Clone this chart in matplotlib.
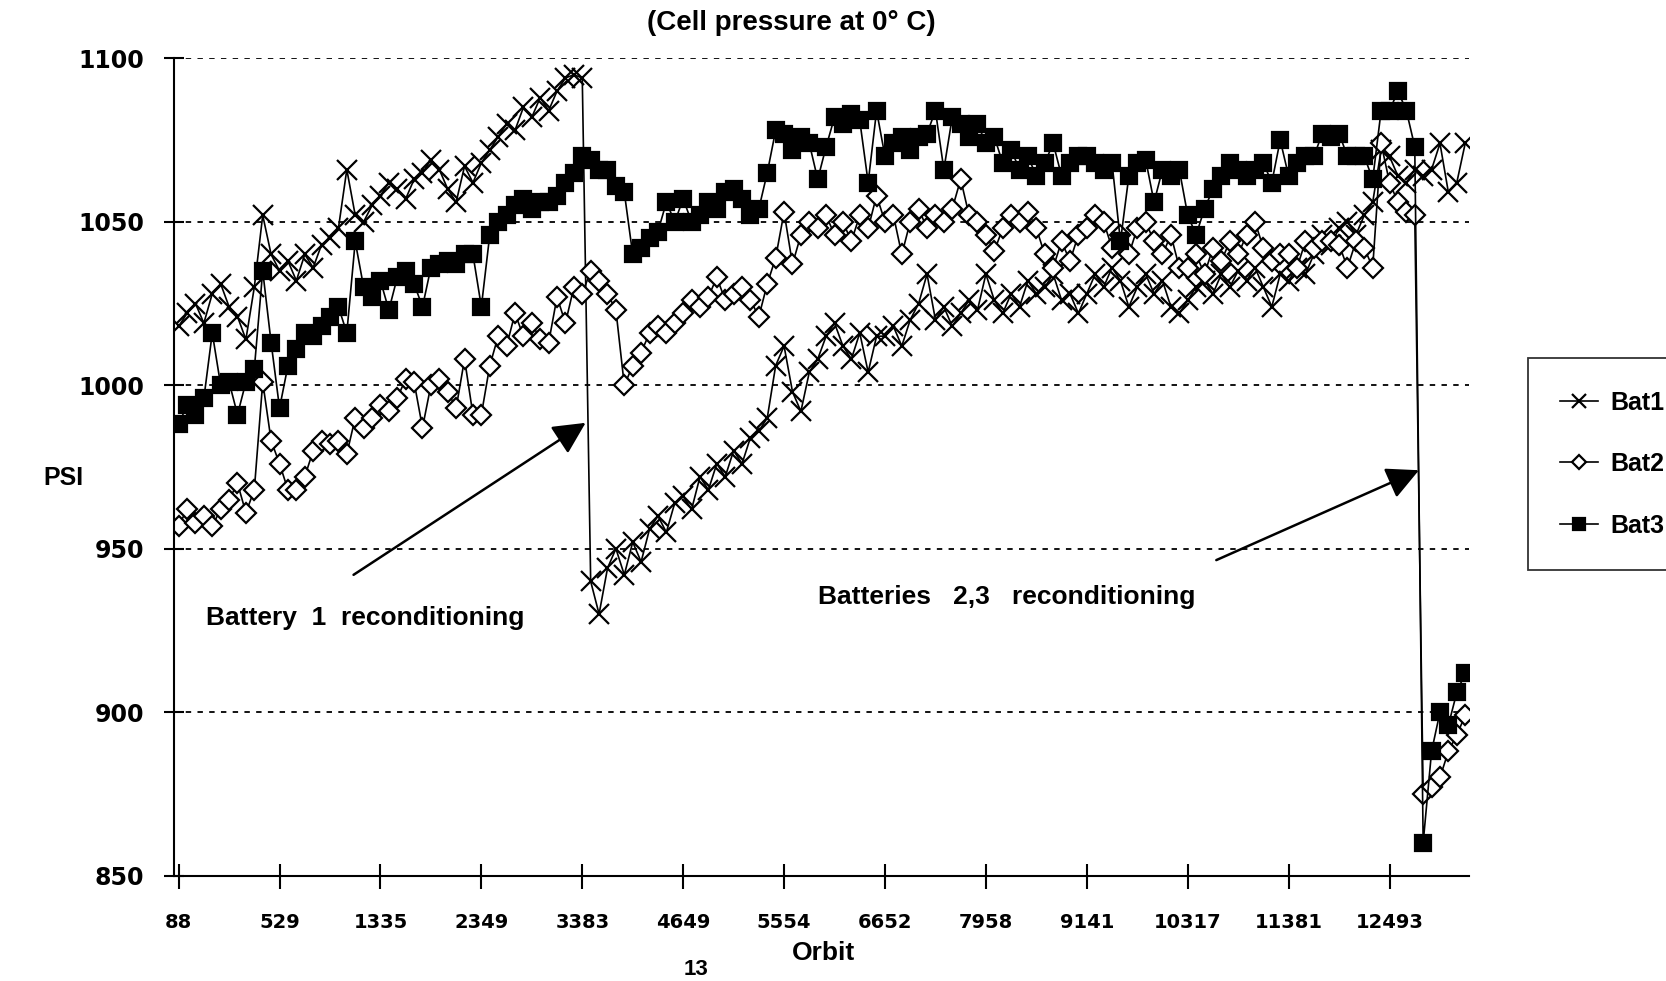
import numpy as np
import matplotlib
matplotlib.use("Agg")
import matplotlib.pyplot as plt

plt.rcParams["font.family"] = ["Liberation Sans", "DejaVu Sans"]
plt.rcParams["font.weight"] = "bold"

# orbit labels shown every 12 samples
orbit_labels = ["88", "529", "1335", "2349", "3383", "4649", "5554",
                "6652", "7958", "9141", "10317", "11381", "12493"]
label_step = 12

# cell pressure (psi) per sample
bat1 = [
    1018, 1022, 1025, 1019, 1028, 1031, 1024, 1021, 1014, 1030, 1052, 1040,
    1035, 1038, 1032, 1040, 1036, 1043, 1045, 1048, 1066, 1052, 1050, 1055,
    1058, 1062, 1060, 1057, 1063, 1065, 1069, 1066, 1060, 1056, 1067, 1062,
    1068, 1072, 1076, 1080, 1078, 1085, 1082, 1088, 1084, 1090, 1094, 1095,
    1094, 940, 930, 944, 950, 942, 952, 946, 956, 960, 955, 964,
    966, 962, 972, 968, 976, 972, 980, 976, 984, 986, 990, 1006,
    1012, 998, 992, 1004, 1008, 1015, 1019, 1012, 1008, 1016, 1004, 1015,
    1015, 1018, 1012, 1020, 1025, 1034, 1020, 1024, 1018, 1022, 1026, 1023,
    1034, 1026, 1022, 1028, 1024, 1032, 1028, 1030, 1034, 1026, 1028, 1022,
    1028, 1034, 1030, 1036, 1032, 1024, 1030, 1034, 1028, 1032, 1024, 1022,
    1026, 1030, 1032, 1028, 1034, 1030, 1035, 1032, 1036, 1030, 1024, 1034,
    1032, 1036, 1034, 1040, 1046, 1043, 1048, 1050, 1046, 1052, 1056, 1072,
    1070, 1064, 1062, 1066, 1064, 1066, 1074, 1059, 1062, 1074,
]
bat2 = [
    957, 962, 958, 960, 957, 962, 965, 970, 961, 968, 1001, 983,
    976, 968, 968, 972, 980, 983, 982, 983, 979, 990, 987, 990,
    994, 992, 996, 1002, 1001, 987, 1000, 1002, 998, 993, 1008, 991,
    991, 1006, 1015, 1012, 1022, 1015, 1019, 1014, 1013, 1027, 1019, 1030,
    1028, 1035, 1032, 1028, 1023, 1000, 1006, 1010, 1016, 1018, 1016, 1019,
    1022, 1026, 1024, 1027, 1033, 1026, 1028, 1030, 1026, 1021, 1031, 1039,
    1053, 1037, 1046, 1050, 1048, 1052, 1046, 1050, 1044, 1052, 1048, 1058,
    1050, 1052, 1040, 1050, 1054, 1048, 1052, 1050, 1054, 1063, 1052, 1050,
    1046, 1041, 1048, 1052, 1050, 1053, 1048, 1040, 1036, 1044, 1038, 1046,
    1048, 1052, 1050, 1042, 1046, 1040, 1048, 1050, 1044, 1040, 1046, 1036,
    1036, 1040, 1034, 1042, 1038, 1044, 1040, 1046, 1050, 1042, 1038, 1040,
    1040, 1036, 1044, 1042, 1044, 1044, 1043, 1036, 1044, 1042, 1036, 1074,
    1062, 1056, 1053, 1052, 875, 877, 880, 888, 893, 899,
]
bat3 = [
    988, 994, 991, 996, 1016, 1000, 1001, 991, 1001, 1005, 1035, 1013,
    993, 1006, 1011, 1016, 1015, 1018, 1021, 1024, 1016, 1044, 1030, 1027,
    1032, 1023, 1033, 1035, 1031, 1024, 1036, 1037, 1038, 1037, 1040, 1040,
    1024, 1046, 1050, 1052, 1055, 1057, 1054, 1056, 1056, 1058, 1062, 1065,
    1070, 1069, 1066, 1066, 1061, 1059, 1040, 1042, 1045, 1047, 1056, 1050,
    1057, 1050, 1052, 1056, 1054, 1059, 1060, 1057, 1052, 1054, 1065, 1078,
    1077, 1072, 1076, 1074, 1063, 1073, 1082, 1080, 1083, 1081, 1062, 1084,
    1070, 1074, 1076, 1072, 1076, 1077, 1084, 1066, 1082, 1080, 1076, 1080,
    1074, 1076, 1068, 1072, 1066, 1070, 1064, 1068, 1074, 1064, 1068, 1070,
    1070, 1068, 1066, 1068, 1044, 1064, 1068, 1069, 1056, 1066, 1064, 1066,
    1052, 1046, 1054, 1060, 1064, 1068, 1066, 1064, 1066, 1068, 1062, 1075,
    1064, 1068, 1070, 1070, 1077, 1076, 1077, 1070, 1070, 1070, 1063, 1084,
    1084, 1090, 1084, 1073, 860, 888, 900, 896, 906, 912,
]

fig = plt.figure(figsize=(16.66, 9.81), dpi=100)
ax = fig.add_axes([0.1047, 0.1075, 0.7773, 0.833])

for vals, mk, ms, face, name in [
    (bat1, "x", 14, "black", "Bat1"),
    (bat2, "D", 10.5, "white", "Bat2"),
    (bat3, "s", 11.5, "black", "Bat3"),
]:
    ax.plot(np.arange(len(vals)), vals, color="black", lw=1.2,
            marker=mk, ms=ms, mfc=face, mec="black", mew=1.6, label=name)

ax.set_xlim(-0.5, 153.5)
ax.set_ylim(850, 1100)
ax.set_yticks([850, 900, 950, 1000, 1050, 1100])
ax.set_xticks(np.arange(len(orbit_labels)) * label_step)
ax.set_xticklabels(orbit_labels, fontsize=14, fontweight="bold",
                   family="DejaVu Sans")
for lab in ax.get_yticklabels():
    lab.set_fontsize(17)
    lab.set_fontweight("bold")
    lab.set_family("DejaVu Sans")

for v in [900, 950, 1000, 1050, 1100]:
    ax.axhline(v, color="black", lw=1.3, ls=(0, (3, 3.5)), zorder=0)

for side in ["top", "right"]:
    ax.spines[side].set_visible(False)
for side in ["left", "bottom"]:
    ax.spines[side].set_linewidth(1.5)
ax.tick_params(axis="x", direction="inout", length=18, width=1.5, pad=18)
ax.tick_params(axis="y", direction="inout", length=14, width=1.5, pad=15)

# annotations
arrow = dict(arrowstyle="-|>,head_length=0.9,head_width=0.45",
             mutation_scale=22, lw=1.8, color="black", shrinkA=0, shrinkB=0)
ax.annotate("", xy=(48.4, 988.5), xytext=(20.8, 942), arrowprops=arrow)
ax.text(3.2, 928.7, "Battery  1  reconditioning", fontsize=19,
        fontweight="bold", va="center", ha="left")
ax.annotate("", xy=(147.5, 974), xytext=(123.4, 946.5), arrowprops=arrow)
ax.text(76, 935.2, "Batteries   2,3   reconditioning", fontsize=19,
        fontweight="bold", va="center", ha="left")

fig.text(0.475, 0.977, "(Cell pressure at 0\u00b0 C)", fontsize=20,
         fontweight="bold", ha="center", va="center")
fig.text(0.038, 0.513, "PSI", fontsize=18, fontweight="bold",
         ha="center", va="center")
fig.text(0.494, 0.029, "Orbit", fontsize=19, fontweight="bold",
         ha="center", va="center")
fig.text(0.418, 0.012, "13", fontsize=16, fontweight="bold",
         ha="center", va="center")

leg = fig.legend(loc="upper left", bbox_to_anchor=(0.917, 0.635),
                 borderaxespad=0, fontsize=18, frameon=True, fancybox=False,
                 edgecolor="black", handlelength=1.5, handletextpad=0.5,
                 labelspacing=1.5, borderpad=1.3, markerscale=0.7)
leg.get_frame().set_linewidth(1.3)

fig.savefig("out.png", dpi=100)
